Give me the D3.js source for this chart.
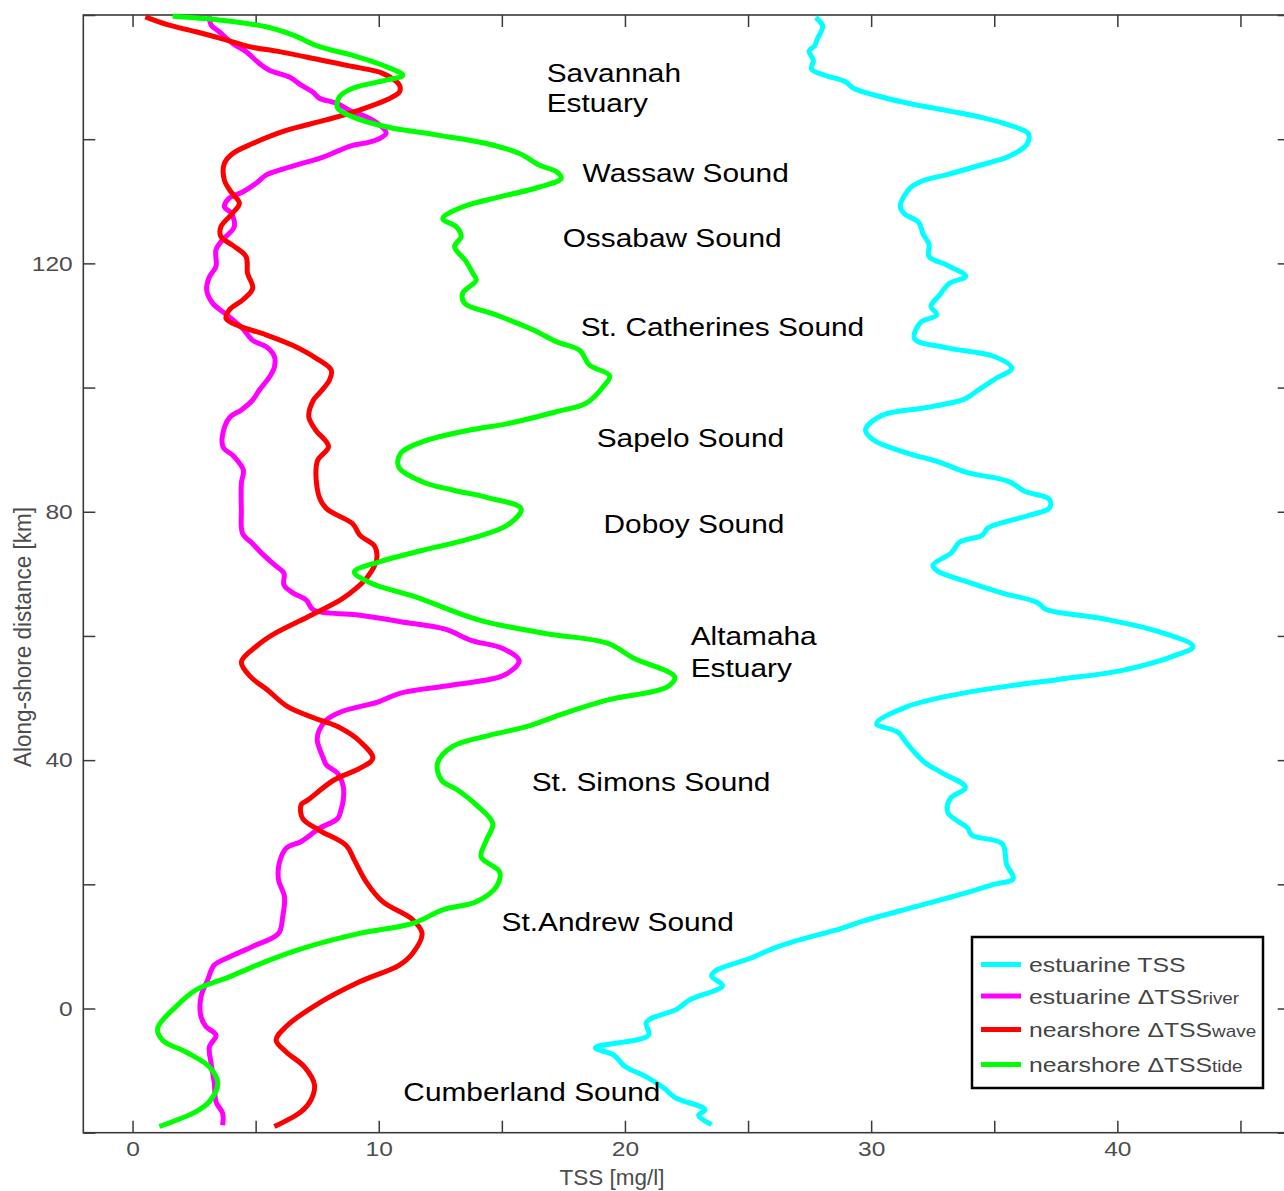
<!DOCTYPE html>
<html>
<head>
<meta charset="utf-8">
<style>
body { margin: 0; background: #fff; }
svg { display: block; font-family: "Liberation Sans", Arial, sans-serif; }
</style>
</head>
<body>
<svg width="1284" height="1191"></svg>
<script src="https://cdn.jsdelivr.net/npm/d3@7"></script>
<script>

// each point is [along-shore distance km, TSS mg/l]
const estuarineTSS = [[159.6,27.75],[158.2,28.03],[156.2,27.82],[155.0,27.70],[154.2,27.48],[152.7,27.65],[151.3,27.58],[150.3,28.11],[149.3,28.94],[148.2,29.28],[146.8,30.43],[145.7,31.60],[144.6,33.09],[143.4,34.59],[142.3,35.58],[140.9,36.38],[139.2,36.33],[137.2,35.58],[135.8,34.42],[134.3,33.09],[133.3,32.10],[132.2,31.60],[130.9,31.35],[129.2,31.18],[128.0,31.35],[126.6,31.93],[124.8,32.10],[123.1,32.35],[121.1,32.35],[119.7,33.09],[117.9,33.84],[116.8,33.18],[114.8,32.76],[113.1,32.43],[111.7,32.67],[110.5,32.01],[107.9,31.76],[106.4,33.09],[105.0,35.0],[103.1,35.71],[101.5,35.08],[99.8,34.42],[98.1,33.76],[96.8,32.26],[95.5,30.43],[93.2,29.77],[91.5,30.11],[89.5,31.43],[88.0,32.76],[86.3,33.92],[84.9,35.58],[83.3,36.24],[82.0,37.24],[80.6,37.24],[79.4,36.41],[77.4,34.75],[76.2,34.50],[75.1,33.59],[73.4,33.26],[71.4,32.51],[70.5,32.68],[68.7,33.91],[66.9,35.33],[65.4,36.74],[64.3,37.09],[62.8,39.38],[60.7,41.67],[58.3,43.08],[56.9,42.38],[54.5,40.26],[53.0,37.62],[51.6,34.98],[50.1,32.86],[48.6,31.45],[45.9,30.22],[44.5,31.09],[42.7,31.45],[39.7,32.15],[38.0,32.86],[35.6,33.83],[33.8,33.21],[31.5,33.12],[29.1,33.91],[27.9,34.09],[26.5,35.33],[23.2,35.50],[20.9,35.77],[20.0,34.98],[18.5,33.74],[16.4,31.80],[14.1,29.69],[12.9,28.80],[10.8,26.87],[9.6,25.98],[8.1,25.10],[6.1,23.69],[5.2,23.52],[3.7,23.96],[1.4,22.63],[-0.1,22.11],[-2.2,20.87],[-4.3,20.96],[-6.3,18.8],[-7.5,19.55],[-9.3,19.99],[-11.0,20.87],[-12.8,21.58],[-14.3,22.02],[-16.3,23.25],[-17.2,22.99],[-18.7,23.52]]

const riverTSS = [[159.8,3.12],[158.4,3.19],[157.3,3.52],[155.4,4.07],[154.1,4.61],[152.2,5.15],[151.1,5.56],[150.0,6.37],[148.7,6.85],[147.6,7.32],[146.6,7.59],[145.8,8.27],[144.4,8.94],[143.6,9.49],[142.3,10.03],[141.0,10.30],[140.1,10.03],[139.4,9.49],[139.0,8.94],[138.2,8.40],[136.9,7.59],[136.0,6.78],[135.0,5.96],[134.2,5.42],[132.9,5.02],[131.5,4.47],[130.5,3.93],[129.1,3.73],[128.1,4.0],[125.9,4.13],[123.8,3.66],[122.2,3.39],[119.5,3.39],[117.8,3.12],[115.7,3.01],[113.6,3.25],[111.4,3.93],[109.5,4.47],[107.6,4.88],[106.6,5.42],[105.0,5.76],[103.3,5.76],[101.7,5.56],[99.6,5.15],[98.0,4.88],[96.4,4.42],[95.3,3.97],[93.7,3.74],[90.5,3.67],[88.9,4.12],[86.7,4.50],[84.6,4.42],[80.3,4.42],[76.5,4.47],[74.9,4.87],[73.3,5.25],[71.4,5.78],[70.1,6.15],[68.2,6.15],[66.9,6.53],[65.8,7.05],[64.2,7.35],[63.4,9.09],[62.3,10.89],[61.1,12.70],[59.3,13.75],[58.0,15.02],[56.0,15.70],[53.7,15.10],[52.1,13.00],[50.8,10.89],[49.4,9.99],[47.8,8.48],[46.5,7.88],[44.8,7.58],[43.2,7.50],[40.5,7.73],[39.2,7.88],[37.9,8.33],[35.7,8.56],[33.6,8.56],[32.0,8.47],[30.6,8.33],[29.0,7.59],[26.9,6.85],[25.8,6.24],[23.4,5.96],[20.7,5.93],[18.0,6.17],[14.8,6.10],[12.1,5.93],[10.0,4.88],[8.3,3.93],[7.0,3.32],[4.6,3.05],[1.9,2.78],[-1.3,2.78],[-2.9,2.98],[-4.3,3.39],[-6.2,3.12],[-8.8,3.19],[-12.0,3.32],[-15.0,3.39],[-16.9,3.66],[-18.8,3.66]]

const waveTSS = [[159.7,0.52],[158.4,1.45],[157.3,2.58],[156.0,3.80],[154.9,4.74],[154.1,5.96],[152.8,7.59],[151.7,8.94],[150.6,10.16],[148.7,10.84],[147.6,10.84],[146.3,10.30],[144.7,9.22],[143.1,7.86],[141.4,6.24],[139.3,4.88],[137.7,4.07],[136.1,3.73],[133.4,3.73],[131.5,4.0],[129.7,4.34],[128.1,4.07],[125.9,3.59],[124.3,3.59],[122.9,4.07],[121.1,4.61],[118.4,4.67],[116.0,4.88],[114.1,4.47],[112.5,3.93],[111.1,3.80],[109.9,4.34],[108.5,5.42],[106.8,6.50],[104.7,7.46],[102.8,8.07],[101.2,8.0],[99.1,7.59],[98.0,7.35],[95.3,7.16],[93.2,7.43],[90.5,7.96],[88.1,7.50],[82.4,7.58],[80.5,7.88],[78.1,8.93],[76.2,9.24],[74.4,9.84],[72.2,9.91],[69.5,9.54],[67.7,9.09],[65.9,8.48],[63.1,7.13],[60.4,5.78],[58.3,5.02],[55.8,4.42],[53.4,4.80],[51.3,5.48],[48.6,6.30],[46.7,7.43],[45.4,8.33],[43.0,9.24],[40.3,9.76],[38.7,9.24],[36.8,8.18],[33.6,7.13],[32.8,6.85],[30.6,6.91],[28.7,7.59],[26.3,8.67],[23.9,9.01],[20.4,9.49],[17.2,10.16],[14.3,11.38],[12.1,11.76],[8.9,11.38],[7.0,10.84],[4.3,9.22],[0.6,7.46],[-2.9,6.24],[-5.1,5.83],[-7.0,6.24],[-9.4,6.98],[-12.3,7.39],[-14.7,7.25],[-16.6,6.85],[-19.0,5.76]]

const tideTSS = [[159.8,1.63],[159.2,3.52],[158.1,5.42],[156.8,6.50],[154.9,7.59],[153.5,8.94],[151.9,10.16],[150.3,10.98],[149.5,10.30],[148.2,8.94],[146.8,8.40],[145.0,8.33],[143.6,8.94],[142.0,10.30],[140.7,12.33],[139.3,14.37],[137.7,15.72],[135.8,16.53],[134.8,17.21],[133.7,17.41],[132.3,16.53],[130.7,14.91],[129.1,13.41],[127.2,12.60],[125.9,13.15],[124.3,13.35],[122.7,13.08],[120.3,13.55],[118.4,13.82],[117.3,13.96],[115.2,13.41],[113.6,13.48],[111.7,14.77],[109.3,16.26],[107.4,17.21],[106.0,18.16],[103.6,18.56],[101.9,19.38],[100.1,19.11],[97.5,18.43],[96.1,17.21],[94.2,15.25],[93.2,13.75],[91.3,11.79],[89.4,10.89],[87.2,10.81],[84.8,11.79],[83.5,13.0],[82.2,14.50],[80.5,15.78],[77.9,15.25],[75.7,13.75],[73.8,11.79],[71.9,9.99],[70.3,9.01],[68.5,9.69],[66.3,11.49],[62.6,14.05],[60.4,16.76],[58.8,19.31],[56.4,20.36],[53.4,22.02],[51.8,21.72],[49.7,19.31],[47.5,17.51],[45.4,16.0],[44.0,14.50],[42.2,13.0],[39.5,12.39],[36.8,12.54],[35.2,13.2],[32.8,13.96],[29.8,14.63],[27.1,14.37],[24.4,14.16],[22.0,14.91],[19.6,14.77],[17.2,13.96],[15.9,12.60],[13.7,11.38],[12.1,9.22],[9.7,6.91],[7.8,5.56],[5.1,3.93],[3.0,2.58],[0.3,1.76],[-3.2,1.02],[-5.1,1.22],[-7.0,2.17],[-9.4,3.12],[-12.0,3.46],[-15.0,3.12],[-16.6,2.58],[-19.0,1.09]]

const xTicks = [0,5,10,15,20,25,30,35,40,45]
const xTickLabels = [0,10,20,30,40]
const yTicks = [-20,0,20,40,60,80,100,120,140,160]
const yTickLabels = [0,40,80,120]

// place names, anchored at [TSS, km] of the text start
const places = [
	["Savannah",16.82,149.2],
	["Estuary",16.82,144.4],
	["Wassaw Sound",18.28,133.1],
	["Ossabaw Sound",17.47,122.6],
	["St. Catherines Sound",18.20,108.3],
	["Sapelo Sound",18.85,90.4],
	["Doboy Sound",19.13,76.6],
	["Altamaha",22.67,58.5],
	["Estuary",22.67,53.4],
	["St. Simons Sound",16.21,35.0],
	["St.Andrew Sound",14.99,12.5],
	["Cumberland Sound",11.00,-14.9]
]

const seriesNames = ["estuarine TSS","estuarine \u0394TSS","nearshore \u0394TSS","nearshore \u0394TSS"]
const seriesSubs = ["","river","wave","tide"]
const seriesColors = ["#00ffff","#ff00ff","#ff0000","#00ff00"]
const seriesData = [estuarineTSS, riverTSS, waveTSS, tideTSS]

var plotLeft = 83.3, plotRight = 1289.7, plotTop = 15, plotBottom = 1132.7
var axisColor = '#3a3a3a', textColor = '#4d4d4d'
var stretch = 1.17

var svg = d3.select('svg')

var x = d3.scaleLinear().domain([-2,47]).range([plotLeft,plotRight])
var y = d3.scaleLinear().domain([-20,160]).range([plotBottom,plotTop])

// frame
svg.append('rect')
	.attr('x',plotLeft).attr('y',plotTop)
	.attr('width',plotRight-plotLeft).attr('height',plotBottom-plotTop)
	.attr('fill','none')
	.attr('stroke',axisColor)
	.attr('stroke-width',1.6)

function styleAxis(g) {
	g.select('.domain').remove()
	g.selectAll('.tick line').attr('stroke',axisColor).attr('stroke-width',1.5)
	g.selectAll('.tick text')
		.attr('fill',textColor)
		.style('font-size','21px')
		.attr('transform','scale('+stretch+',1)')
}

svg.append('g')
	.attr('transform','translate(0,'+plotBottom+')')
	.call(d3.axisBottom(x).tickValues(xTicks).tickSize(-12).tickPadding(8)
		.tickFormat(d => xTickLabels.includes(d) ? d : ''))
	.call(styleAxis)

svg.append('g')
	.attr('transform','translate(0,'+plotTop+')')
	.call(d3.axisTop(x).tickValues(xTicks).tickSize(-12).tickFormat(''))
	.call(styleAxis)

svg.append('g')
	.attr('transform','translate('+plotLeft+',0)')
	.call(d3.axisLeft(y).tickValues(yTicks).tickSize(-12).tickPadding(9)
		.tickFormat(d => yTickLabels.includes(d) ? d : ''))
	.call(styleAxis)

svg.append('g')
	.attr('transform','translate('+plotRight+',0)')
	.call(d3.axisRight(y).tickValues(yTicks).tickSize(-12).tickFormat(''))
	.call(styleAxis)

// axis titles
svg.append('text')
	.attr('x',612).attr('y',1185)
	.attr('text-anchor','middle')
	.attr('fill',textColor)
	.style('font-size','22.5px')
	.text('TSS [mg/l]')

svg.append('text')
	.attr('transform','translate(31,637) scale(1.1,1) rotate(-90)')
	.attr('text-anchor','middle')
	.attr('fill',textColor)
	.style('font-size','22.5px')
	.text('Along-shore distance [km]')

// profiles
var line = d3.line()
	.x(d => x(d[1]))
	.y(d => y(d[0]))
	.curve(d3.curveCatmullRom.alpha(0.5))

svg.append('g').selectAll('path')
	.data(seriesData)
	.join('path')
	.attr('d',line)
	.attr('fill','none')
	.attr('stroke',(d,i) => seriesColors[i])
	.attr('stroke-width',5)
	.attr('stroke-linejoin','round')
	.attr('stroke-linecap','butt')

// place names
svg.append('g').selectAll('text')
	.data(places)
	.join('text')
	.attr('transform',d => 'translate('+x(d[1])+','+y(d[2])+') scale('+stretch+',1)')
	.attr('fill','#000')
	.style('font-size','25.5px')
	.text(d => d[0])

// legend
var legend = svg.append('g')

legend.append('rect')
	.attr('x',972).attr('y',937)
	.attr('width',291).attr('height',151)
	.attr('fill','#fff')
	.attr('stroke','#000')
	.attr('stroke-width',2.5)

var rowY = [964.5,996,1029.5,1064.5]

seriesNames.forEach(function(name,i) {
	legend.append('line')
		.attr('x1',981).attr('x2',1021)
		.attr('y1',rowY[i]).attr('y2',rowY[i])
		.attr('stroke',seriesColors[i])
		.attr('stroke-width',5)

	var t = legend.append('text')
		.attr('transform','translate(1029,'+(rowY[i]+7.5)+') scale(1.18,1)')
		.attr('fill','#444')
		.style('font-size','21px')
	t.append('tspan').text(name)
	if (seriesSubs[i]) {
		t.append('tspan').style('font-size','16px').text(seriesSubs[i])
	}
})

</script>
</body>
</html>
